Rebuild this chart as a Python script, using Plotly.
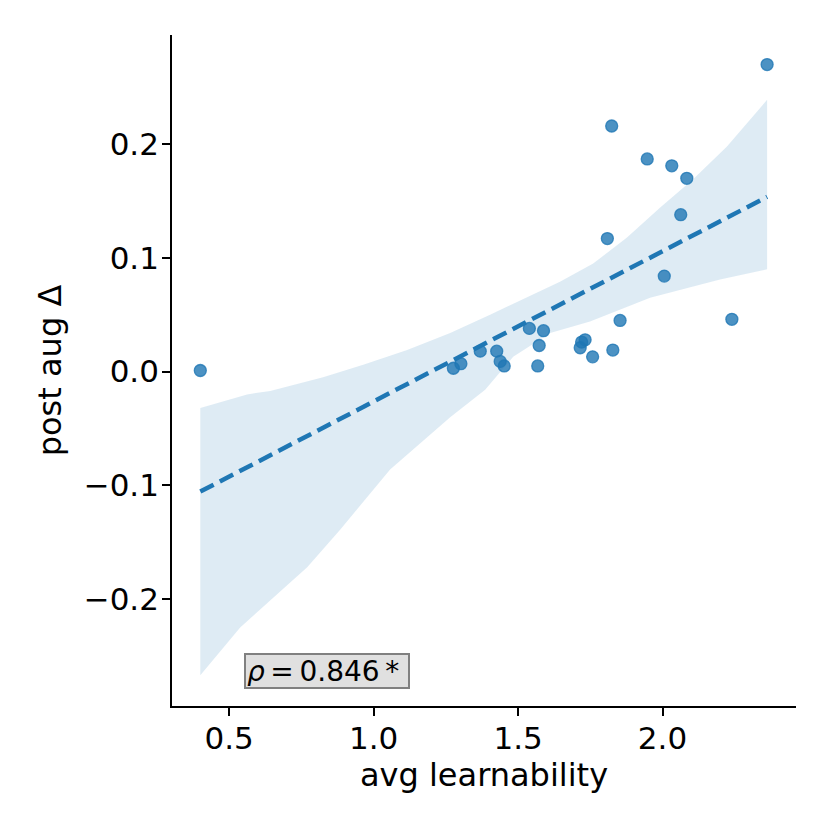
import plotly.graph_objects as go

# scatter points
learnability = [0.400, 1.276, 1.302, 1.369, 1.426, 1.438, 1.452, 1.539, 1.588,
                1.573, 1.568, 1.720, 1.732, 1.715, 1.758, 1.828, 1.853, 1.824,
                1.947, 2.032, 2.084, 2.063, 1.809, 2.006, 2.240, 2.362]
post_aug_delta = [0.001, 0.003, 0.007, 0.018, 0.018, 0.009, 0.005, 0.038, 0.036,
                  0.023, 0.005, 0.026, 0.028, 0.021, 0.013, 0.019, 0.045, 0.216,
                  0.187, 0.181, 0.170, 0.138, 0.117, 0.084, 0.046, 0.270]

# regression line endpoints
fit_x = [0.400, 2.362]
fit_y = [-0.1055, 0.1537]

# confidence band edges
upper_x = [0.400, 0.562, 0.642, 0.825, 0.964, 1.116, 1.265, 1.403, 1.645,
           1.760, 1.877, 1.991, 2.105, 2.223, 2.362]
upper_y = [-0.032, -0.020, -0.017, -0.005, 0.006, 0.019, 0.034, 0.050, 0.079,
           0.095, 0.118, 0.144, 0.169, 0.198, 0.239]
lower_x = [0.400, 0.538, 0.770, 0.884, 1.057, 1.265, 1.386, 1.483, 1.611,
           1.749, 1.957, 2.199, 2.362]
lower_y = [-0.267, -0.225, -0.172, -0.139, -0.086, -0.040, -0.016, 0.013, 0.034,
           0.044, 0.065, 0.081, 0.090]

x_ticks = [0.5, 1.0, 1.5, 2.0]
y_ticks = [-0.2, -0.1, 0.0, 0.1, 0.2]
y_ticktext = ["\u22120.2", "\u22120.1", "0.0", "0.1", "0.2"]

rho_text = "<i>\u03c1</i>\u2009=\u20090.846\u2009*"

blue = "#1f77b4"
font = "DejaVu Sans"

fig = go.Figure()

fig.add_trace(go.Scatter(
    x=upper_x + lower_x[::-1],
    y=upper_y + lower_y[::-1],
    fill="toself",
    fillcolor="rgba(31,119,180,0.15)",
    line=dict(width=0),
    mode="lines",
    hoverinfo="skip",
    showlegend=False,
))

fig.add_trace(go.Scatter(
    x=learnability, y=post_aug_delta,
    mode="markers",
    marker=dict(size=12, color="rgba(31,119,180,0.8)",
                line=dict(width=1.3, color="rgba(31,119,180,0.8)")),
    showlegend=False,
))

fig.add_trace(go.Scatter(
    x=fit_x, y=fit_y,
    mode="lines",
    line=dict(color=blue, width=4.5, dash="15px,7px"),
    showlegend=False,
))

fig.add_annotation(
    x=0.552, y=-0.279, xref="x", yref="y",
    xanchor="left", yanchor="bottom",
    text=rho_text, showarrow=False, width=160, height=30,
    align="left", valign="middle",
    font=dict(family=font, size=28, color="black"),
    bgcolor="#e0e0e0", bordercolor="#808080", borderwidth=2, borderpad=1,
)

axis_common = dict(
    showgrid=False, zeroline=False,
    showline=True, linecolor="black", linewidth=1.7,
    ticks="outside", ticklen=8, tickwidth=1.6, tickcolor="black",
    tickfont=dict(family=font, size=31, color="black"),
    mirror=False,
)

fig.update_xaxes(
    range=[0.302, 2.462],
    tickvals=x_ticks, ticktext=[f"{v:.1f}" for v in x_ticks],
    ticklabelstandoff=-4,
    title=dict(text="avg learnability", font=dict(family=font, size=32, color="black"), standoff=8),
    **axis_common,
)
fig.update_yaxes(
    range=[-0.294, 0.296],
    tickvals=y_ticks, ticktext=y_ticktext,
    ticklabelstandoff=-3,
    title=dict(text="post aug \u0394", font=dict(family=font, size=32, color="black"), standoff=12),
    **axis_common,
)

# page body adds an 8px offset, so the figure is drawn 8px smaller
fig.update_layout(
    width=822, height=822,
    margin=dict(l=164, r=34, t=27, b=124),
    plot_bgcolor="white", paper_bgcolor="white",
    font=dict(family=font),
)

fig.write_html("out.html")
